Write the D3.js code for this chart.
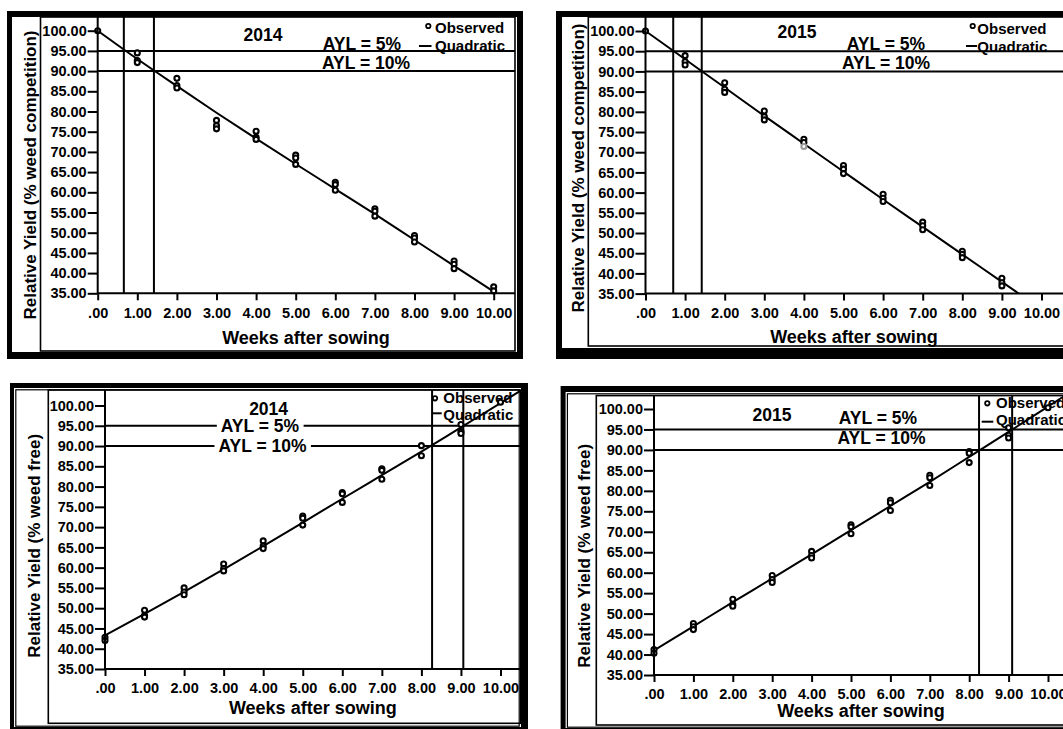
<!DOCTYPE html>
<html>
<head>
<meta charset="utf-8">
<script src="https://cdn.jsdelivr.net/npm/d3@7"></script>
<style>
  body { margin: 0; background: #fff; }
  text { font-family: "Liberation Sans", Arial, sans-serif; font-weight: bold; fill: #000; }
</style>
</head>
<body>
<script>
// ---- data ----
var xTicks = [0, 1, 2, 3, 4, 5, 6, 7, 8, 9, 10];
var yTicks = [35, 40, 45, 50, 55, 60, 65, 70, 75, 80, 85, 90, 95, 100];
var aylLevels = [95, 90];
var aylLabels = ['AYL = 5%', 'AYL = 10%'];
var fitWeeks = [0, 1, 2, 3, 4, 5, 6, 7, 8, 9, 10, 10.5];

// weed competition (yield falls with weeks of competition)
var obs2014Comp = [[0,100],[1,94.5],[1,92.6],[1,92.1],[2,88.2],[2,86.4],[2,85.8],[3,77.8],[3,76.5],[3,75.7],
  [4,75.1],[4,73.6],[4,73.1],[5,69.2],[5,68.5],[5,66.9],[6,62.5],[6,61.9],[6,60.5],[7,55.9],[7,55.3],[7,54.1],
  [8,49.3],[8,48.7],[8,47.7],[9,43.0],[9,42.2],[9,41.1],[10,36.6],[10,35.6]];
var fit2014Comp = [100, 93.0, 86.3, 79.7, 73.3, 67.0, 60.8, 54.6, 48.2, 41.8, 35.4, 32.2];
var crit2014Comp = [0.66, 1.42];

var obs2015Comp = [[0,100],[1,93.9],[1,92.4],[1,91.6],[2,87.2],[2,85.6],[2,84.8],[3,80.2],[3,78.8],[3,78.0],
  [4,73.2],[4,72.4],[4,71.4],[5,66.7],[5,65.8],[5,64.7],[6,59.6],[6,58.6],[6,57.8],[7,52.7],[7,51.8],[7,50.8],
  [8,45.5],[8,44.7],[8,43.9],[9,38.8],[9,37.7],[9,36.9]];
var fit2015Comp = [100, 93.0, 86.0, 79.0, 72.1, 65.2, 58.3, 51.5, 44.7, 37.9, 31.1, 27.7];
var crit2015Comp = [0.70, 1.42];

// weed free (yield rises with weeks kept weed free)
var obs2014Free = [[0,42.8],[0,42.0],[1,49.5],[1,48.2],[1,47.8],[2,55.0],[2,54.0],[2,53.3],[3,60.9],[3,59.8],[3,59.2],
  [4,66.6],[4,65.3],[4,64.7],[5,72.7],[5,72.2],[5,70.5],[6,78.5],[6,78.2],[6,76.1],[7,84.4],[7,84.0],[7,81.8],
  [8,90.1],[8,87.6],[9,95.3],[9,93.6],[9,93.1],[10,100.8]];
var fit2014Free = [43.3, 48.6, 54.0, 59.6, 65.3, 71.1, 77.0, 82.8, 88.6, 94.6, 100.6, 103.6];
var crit2014Free = [8.27, 9.06];

var obs2015Free = [[0,41.2],[0,40.3],[1,47.6],[1,46.8],[1,46.1],[2,53.5],[2,52.2],[2,51.8],[3,59.3],[3,58.3],[3,57.6],
  [4,65.2],[4,64.2],[4,63.6],[5,71.7],[5,71.2],[5,69.5],[6,77.7],[6,77.1],[6,75.2],[7,83.8],[7,83.2],[7,81.3],
  [8,89.6],[8,89.2],[8,86.9],[9,95.4],[9,93.6],[9,92.9],[10,100.3]];
var fit2015Free = [41.0, 46.9, 52.8, 58.6, 64.5, 70.4, 76.3, 82.2, 88.3, 94.4, 100.6, 103.7];
var crit2015Free = [8.25, 9.09];

// ---- layout of the four boxes ----
var panels = [
  { year: '2014', yTitle: 'Relative Yield (% weed competition)', obs: obs2014Comp, fit: fit2014Comp, crit: crit2014Comp,
    frame: [7, 11, 523, 359], inner: [12, 17, 517, 352], box: [40.5, 17, 515, 351], dbl: false,
    x0: 97.7, x10: 493.7, y100: 30.7, y35: 293.3,
    title: [263, 41], ayl: [[362, 49.5], [366, 69]], aylBg: false,
    leg: { cx: 428.3, cy: 26, tx: 435, ty1: 33.3, d0: 419, d1: 431.5, dy: 46, ty2: 50.7 },
    xTitle: [306, 344], yTitleAt: [30, 175] },
  { year: '2015', yTitle: 'Relative Yield (% weed competition)', obs: obs2015Comp, fit: fit2015Comp, crit: crit2015Comp,
    frame: [556, 11, 1100, 359], inner: [562, 17, 1095, 348], box: [588.3, 17, 1095, 346], dbl: false,
    x0: 645.5, x10: 1041.5, y100: 31, y35: 293.6,
    title: [797, 38], ayl: [[886, 49.5], [886, 69]], aylBg: false,
    leg: { cx: 972.7, cy: 26, tx: 977.3, ty1: 34, d0: 966, d1: 977, dy: 46, ty2: 51.5 },
    xTitle: [854, 343], yTitleAt: [578, 168] },
  { year: '2014', yTitle: 'Relative Yield (% weed free)', obs: obs2014Free, fit: fit2014Free, crit: crit2014Free,
    frame: [10, 383, 528, 740], inner: [14, 388, 521, 727], box: [48.3, 390, 520.7, 723.3], dbl: true,
    x0: 105, x10: 500.5, y100: 405.5, y35: 669,
    title: [268.6, 415], ayl: [[260, 432], [262.5, 452]], aylBg: true,
    leg: { cx: 435, cy: 398.3, tx: 443.3, ty1: 403.3, d0: 431.7, d1: 441.7, dy: 413.3, ty2: 420 },
    xTitle: [312.8, 714], yTitleAt: [34.4, 545.8] },
  { year: '2015', yTitle: 'Relative Yield (% weed free)', obs: obs2015Free, fit: fit2015Free, crit: crit2015Free,
    frame: [560.6, 386, 1100, 740], inner: [565.6, 392, 1095, 728], box: [596.3, 395.6, 1095, 725], dbl: true,
    x0: 654, x10: 1048, y100: 409, y35: 675,
    title: [772, 421], ayl: [[878, 423.5], [881.6, 443.7]], aylBg: false,
    leg: { cx: 987.3, cy: 403.3, tx: 996, ty1: 408.3, d0: 981.7, d1: 993.3, dy: 421.7, ty2: 425 },
    xTitle: [861, 717], yTitleAt: [584.4, 555.8] }
];

var svg = d3.select('body').append('svg')
  .attr('width', 1063)
  .attr('height', 729);

var tickFmt = function (d) { return d === 0 ? '.00' : d3.format('.2f')(d); };

panels.forEach(function (p, i) {
  var g = svg.append('g');
  var x = d3.scaleLinear().domain([0, 10]).range([p.x0, p.x10]);
  var y = d3.scaleLinear().domain([35, 100]).range([p.y35, p.y100]);
  var right = p.box[2], top = p.box[1];

  // heavy frame + inner box
  g.append('rect').attr('x', p.frame[0]).attr('y', p.frame[1])
    .attr('width', p.frame[2] - p.frame[0]).attr('height', p.frame[3] - p.frame[1]).attr('fill', '#000');
  g.append('rect').attr('x', p.inner[0]).attr('y', p.inner[1])
    .attr('width', p.inner[2] - p.inner[0]).attr('height', p.inner[3] - p.inner[1]).attr('fill', '#fff');
  if (p.dbl) {
    g.append('rect').attr('x', p.inner[0] + 1.8).attr('y', p.inner[1] + 1.8)
      .attr('width', p.inner[2] - p.inner[0] - 3.6).attr('height', p.inner[3] - p.inner[1] - 2.6)
      .attr('fill', 'none').attr('stroke', '#000').attr('stroke-width', 1.2);
  }
  g.append('rect').attr('x', p.box[0]).attr('y', p.box[1])
    .attr('width', p.box[2] - p.box[0]).attr('height', p.box[3] - p.box[1])
    .attr('fill', 'none').attr('stroke', '#000').attr('stroke-width', 1.6);

  // legend (drawn under the lines, as in the original)
  var lg = g.append('g');
  lg.append('circle').attr('cx', p.leg.cx).attr('cy', p.leg.cy).attr('r', 2.2)
    .attr('fill', '#fff').attr('stroke', '#000').attr('stroke-width', 1.8);
  lg.append('text').attr('x', p.leg.tx).attr('y', p.leg.ty1).style('font-size', '15px').text('Observed');
  lg.append('line').attr('x1', p.leg.d0).attr('x2', p.leg.d1).attr('y1', p.leg.dy).attr('y2', p.leg.dy)
    .attr('stroke', '#000').attr('stroke-width', 2);
  lg.append('text').attr('x', p.leg.tx).attr('y', p.leg.ty2).style('font-size', '15px').text('Quadratic');

  // title
  g.append('text').attr('x', p.title[0]).attr('y', p.title[1]).attr('text-anchor', 'middle')
    .style('font-size', '17.5px').text(p.year);

  // AYL reference lines
  g.selectAll('.hline').data(aylLevels).enter().append('line')
    .attr('x1', x(0)).attr('x2', right)
    .attr('y1', function (d) { return y(d); }).attr('y2', function (d) { return y(d); })
    .attr('stroke', '#000').attr('stroke-width', 2);
  g.selectAll('.vline').data(p.crit).enter().append('line')
    .attr('x1', function (d) { return x(d); }).attr('x2', function (d) { return x(d); })
    .attr('y1', top).attr('y2', y(35))
    .attr('stroke', '#000').attr('stroke-width', 2);

  // AYL labels
  aylLabels.forEach(function (lab, k) {
    var t = g.append('text').attr('x', p.ayl[k][0]).attr('y', p.ayl[k][1]).attr('text-anchor', 'middle')
      .style('font-size', '17.5px').text(lab);
    if (p.aylBg) {
      var bb = t.node().getBBox();
      g.insert('rect', function () { return t.node(); })
        .attr('x', bb.x - 4).attr('y', y(aylLevels[k]) - 3).attr('width', bb.width + 8).attr('height', 6)
        .attr('fill', '#fff');
    }
  });

  // clip for the fitted curve
  var clipId = 'clip' + i;
  g.append('clipPath').attr('id', clipId).append('rect')
    .attr('x', x(0)).attr('y', top).attr('width', right - x(0)).attr('height', y(35) - top);

  var line = d3.line()
    .x(function (d, j) { return x(fitWeeks[j]); })
    .y(function (d) { return y(d); })
    .curve(d3.curveMonotoneX);
  g.append('path').datum(p.fit)
    .attr('clip-path', 'url(#' + clipId + ')')
    .attr('d', line).attr('fill', 'none').attr('stroke', '#000').attr('stroke-width', 2);

  // observed points
  g.selectAll('.pt').data(p.obs).enter().append('circle')
    .attr('cx', function (d) { return x(d[0]); })
    .attr('cy', function (d) { return y(d[1]); })
    .attr('r', 2.5)
    .attr('fill', '#fff')
    .attr('stroke', function (d) { return (i === 1 && d[0] === 4 && d[1] < 72) ? '#999' : '#000'; })
    .attr('stroke-width', 2.1);

  // axes
  g.append('line').attr('x1', x(0)).attr('x2', x(0)).attr('y1', top).attr('y2', y(35))
    .attr('stroke', '#000').attr('stroke-width', 2);
  g.append('line').attr('x1', x(0)).attr('x2', right).attr('y1', y(35)).attr('y2', y(35))
    .attr('stroke', '#000').attr('stroke-width', 2);

  var ya = g.append('g').attr('transform', 'translate(' + x(0) + ',0)')
    .call(d3.axisLeft(y).tickValues(yTicks).tickSize(10).tickPadding(1).tickFormat(tickFmt));
  var xa = g.append('g').attr('transform', 'translate(0,' + y(35) + ')')
    .call(d3.axisBottom(x).tickValues(xTicks).tickSize(7).tickPadding(7).tickFormat(tickFmt));
  [ya, xa].forEach(function (a) {
    a.select('.domain').remove();
    a.attr('font-family', null).attr('font-size', null);
    a.selectAll('line').attr('stroke', '#000').attr('stroke-width', 2);
    a.selectAll('text').style('font-size', '14.5px').attr('fill', '#000');
  });

  // axis titles
  g.append('text').attr('x', p.xTitle[0]).attr('y', p.xTitle[1]).attr('text-anchor', 'middle')
    .style('font-size', '18px').text('Weeks after sowing');
  g.append('text')
    .attr('transform', 'translate(' + p.yTitleAt[0] + ',' + p.yTitleAt[1] + ') rotate(-90)')
    .attr('text-anchor', 'middle').attr('dy', '0.35em')
    .style('font-size', '17px').text(p.yTitle);
});
</script>
</body>
</html>
